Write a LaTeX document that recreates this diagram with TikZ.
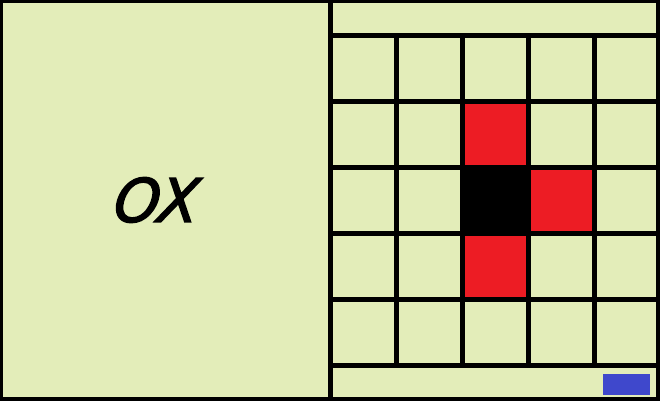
\documentclass[tikz,border=0pt]{standalone}
\usepackage{fontspec}
\newfontfamily\oxfont[FakeBold=2.5]{DejaVu Sans}
\definecolor{bg}{RGB}{227,237,185}
\definecolor{cellred}{RGB}{237,28,36}
\definecolor{cellblue}{RGB}{63,72,204}
\begin{document}
\begin{tikzpicture}[x=1pt,y=-1pt,
  gridline/.style={line width=5pt,black},
  frameline/.style={line width=6pt,black}]
\useasboundingbox (0,0) rectangle (660,400);
\fill[bg] (0,0) rectangle (660,400);
% coloured cells
\fill[cellred] (462.5,101.5) rectangle (528.5,167.5);
\fill[black] (462.5,167.5) rectangle (528.5,233.5);
\fill[cellred] (528.5,167.5) rectangle (594.5,233.5);
\fill[cellred] (462.5,233.5) rectangle (528.5,299.5);
\fill[cellblue] (603,374) rectangle (650,395);
% grid lines
\foreach \x in {396.5,462.5,528.5,594.5}
  \draw[gridline] (\x,35.5) -- (\x,365.5);
\foreach \y in {35.5,101.5,167.5,233.5,299.5,365.5}
  \draw[gridline] (330.5,\y) -- (660,\y);
\draw[gridline] (330.5,0) -- (330.5,400);
% outer frame
\begin{scope}
\clip (0,0) rectangle (660,400);
\draw[frameline] (0,0) rectangle (660,400);
\draw[line width=8pt] (660,0) -- (660,400);
\end{scope}
\node[font=\oxfont\itshape\fontsize{60}{62}\selectfont, inner sep=0pt, xslant=0.12, xscale=0.97] (ox) at (157,200) {OX};
\end{tikzpicture}
\end{document}
